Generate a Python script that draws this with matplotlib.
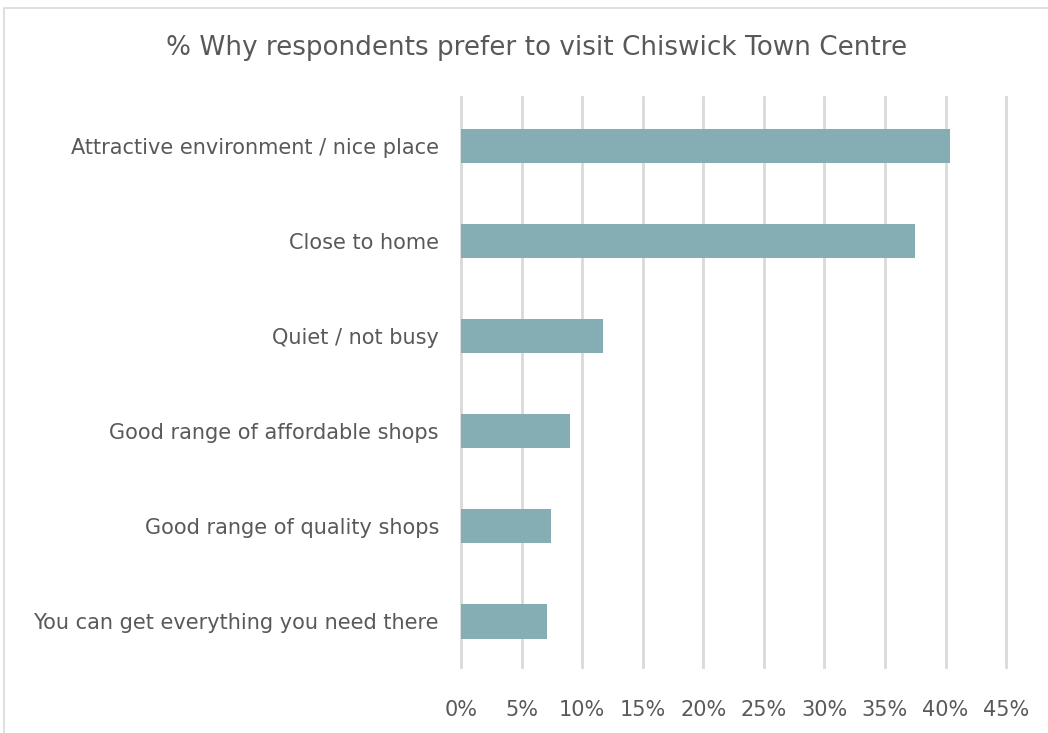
import matplotlib.pyplot as plt
from matplotlib.patches import Rectangle
from matplotlib.ticker import FuncFormatter

# reasons, top to bottom
reasons = [
    "Attractive environment / nice place",
    "Close to home",
    "Quiet / not busy",
    "Good range of affordable shops",
    "Good range of quality shops",
    "You can get everything you need there",
]
share = [40.4, 37.5, 11.7, 9.0, 7.4, 7.1]
ticks = [0, 5, 10, 15, 20, 25, 30, 35, 40, 45]

text_col = "#595959"
bar_col = "#84aeb4"
grid_col = "#d9d9d9"

plt.rcParams["font.family"] = ["DejaVu Sans"]

fig = plt.figure(figsize=(10.48, 7.33), dpi=100)
ax = fig.add_axes([0.44, 0.09, 0.52, 0.778])

pos = list(range(len(reasons)))[::-1]
ax.barh(pos, share, height=0.36, color=bar_col, zorder=3)

ax.set_xlim(0, 45)
ax.set_ylim(-0.48, 5.52)
ax.set_xticks(ticks)
ax.xaxis.set_major_formatter(FuncFormatter(lambda v, p: f"{v:.0f}%"))
ax.set_yticks(pos)
ax.set_yticklabels(reasons)
ax.tick_params(axis="both", length=0, labelsize=15, colors=text_col)
ax.tick_params(axis="x", pad=24)
ax.tick_params(axis="y", pad=16)
for t in ticks:
    ax.axvline(t, color=grid_col, linewidth=2, zorder=0, clip_on=False)
for s in ax.spines.values():
    s.set_visible(False)

fig.text(0.512, 0.935, "% Why respondents prefer to visit Chiswick Town Centre",
         ha="center", va="center", fontsize=18.9, color=text_col)

# thin chart-area frame
fig.patches.append(Rectangle((0.004, -0.1), 1.2, 1.089, transform=fig.transFigure,
                             fill=False, edgecolor="#d9d9d9", linewidth=1.2))

fig.savefig("out.png", dpi=100, facecolor="white")
